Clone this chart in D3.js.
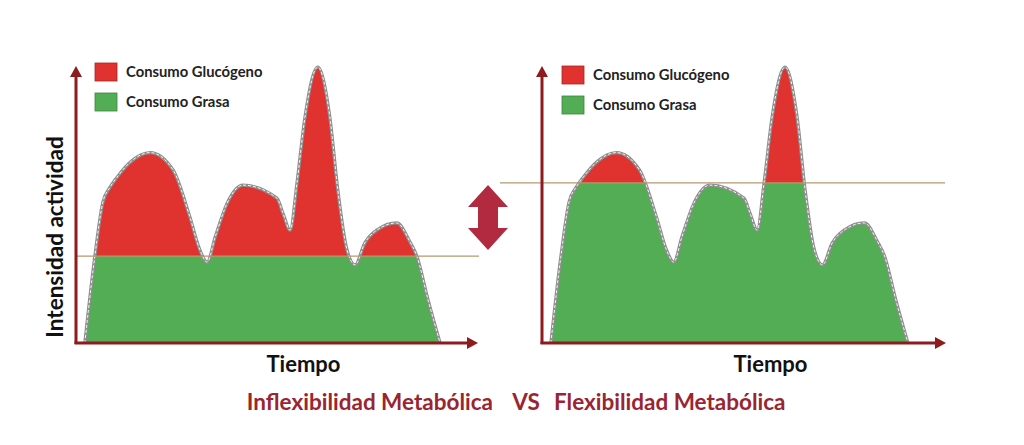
<!DOCTYPE html>
<html><head><meta charset="utf-8">
<script src="https://cdn.jsdelivr.net/npm/d3@7"></script>
<style>html,body{margin:0;padding:0;background:#fff;}svg{display:block;}</style>
</head><body>
<svg id="c" width="1024" height="445"></svg>
<script>
// ---- data ----
const time = [2.2, 4.7, 6.7, 8.5, 10.2, 13.5, 18.5, 24.2, 28.4, 30.9, 32.7, 34.7, 37.7, 41.6, 50.1, 51.6, 53.4, 55.1, 57.1, 60.3, 63.3, 65.3, 67.6, 69.6, 72, 75, 80, 83.3, 85, 87.8, 90.8];
const intensity = [0, 31.5, 51, 56.5, 60, 65.5, 69, 62.7, 45.7, 33.7, 29.3, 38.4, 50.7, 57.2, 52.5, 47.1, 40.9, 58, 81.9, 100, 81.9, 55.4, 33.7, 28.3, 36.2, 40.9, 43.5, 36.6, 31.5, 15.6, 0];
const thresholds = [31.5, 58];
const panelNames = ["Inflexibilidad Metabólica", "Flexibilidad Metabólica"];
const legendLabels = ["Consumo Glucógeno", "Consumo Grasa"];
const legendColors = ["#e0322f", "#52ad55"];
const xLabel = "Tiempo";
const yLabel = "Intensidad actividad";

const svg = d3.select("#c");
const data = time.map((t, i) => ({t, v: intensity[i]}));
const axisColor = "#8e1b1e";
const font = "Lato, 'Open Sans', sans-serif";

const panels = [
  {x0: 76, x1: 477, lineX0: 76, lineX1: 479, legX: 95, legY: 63},
  {x0: 542, x1: 945, lineX0: 500, lineX1: 945, legX: 562, legY: 66}
];
const yTop = 67, yBase = 343;

panels.forEach((p, pi) => {
  const x = d3.scaleLinear().domain([0, 100]).range([p.x0, p.x1]);
  const y = d3.scaleLinear().domain([0, 100]).range([yBase, yTop]);
  const thr = thresholds[pi];
  const g = svg.append("g");
  const area = d3.area().x(d => x(d.t)).y0(y(0)).y1(d => y(d.v)).curve(d3.curveMonotoneX);
  const line = d3.line().x(d => x(d.t)).y(d => y(d.v)).curve(d3.curveMonotoneX);
  const idA = "above" + pi, idB = "below" + pi;
  const defs = svg.append("defs");
  defs.append("clipPath").attr("id", idA).append("rect")
    .attr("x", 0).attr("y", 0).attr("width", 1024).attr("height", y(thr));
  defs.append("clipPath").attr("id", idB).append("rect")
    .attr("x", 0).attr("y", y(thr)).attr("width", 1024).attr("height", 445 - y(thr));
  g.append("path").datum(data).attr("d", area).attr("fill", legendColors[0]).attr("clip-path", `url(#${idA})`);
  g.append("path").datum(data).attr("d", area).attr("fill", legendColors[1]).attr("clip-path", `url(#${idB})`);
  g.append("path").datum(data).attr("d", line).attr("fill", "none").attr("stroke", "#8f8f8f").attr("stroke-width", 3.2);
  g.append("path").datum(data).attr("d", line).attr("fill", "none").attr("stroke", "#f4f4f4").attr("stroke-width", 1).attr("stroke-dasharray", "3,2");
  // threshold line
  g.append("line").attr("x1", p.lineX0).attr("x2", p.lineX1).attr("y1", y(thr)).attr("y2", y(thr))
    .attr("stroke", "#b9976e").attr("stroke-width", 1.2);
  // axes
  g.append("line").attr("x1", p.x0).attr("x2", p.x0).attr("y1", yBase + 1).attr("y2", yTop + 4)
    .attr("stroke", axisColor).attr("stroke-width", 3);
  g.append("line").attr("x1", p.x0 - 1.5).attr("x2", p.x1 - 6).attr("y1", yBase).attr("y2", yBase)
    .attr("stroke", axisColor).attr("stroke-width", 3);
  g.append("path").attr("d", `M${p.x0 - 6},${yTop + 10} L${p.x0},${yTop - 1} L${p.x0 + 6},${yTop + 10} Z`).attr("fill", axisColor);
  g.append("path").attr("d", `M${p.x1 - 10},${yBase - 6} L${p.x1 + 1},${yBase} L${p.x1 - 10},${yBase + 6} Z`).attr("fill", axisColor);
  // legend
  legendLabels.forEach((lab, li) => {
    const ly = p.legY + li * 30;
    g.append("rect").attr("x", p.legX).attr("y", ly).attr("width", 22).attr("height", 18)
      .attr("fill", legendColors[li]).attr("stroke", d3.color(legendColors[li]).darker(0.8)).attr("stroke-width", 0.8);
    g.append("text").attr("x", p.legX + 31).attr("y", ly + 14).text(lab)
      .attr("font-family", font).attr("font-weight", "bold").attr("font-size", 14.8).attr("fill", "#222");
  });
  // x label
  g.append("text").attr("x", (p.x0 + p.x1) / 2 + 27).attr("y", 372).attr("text-anchor", "middle").text(xLabel)
    .attr("font-family", font).attr("font-weight", "bold").attr("font-size", 22).attr("fill", "#111");
});

// y label (left only)
svg.append("text").attr("transform", "translate(63,237) rotate(-90)").attr("text-anchor", "middle").text(yLabel)
  .attr("font-family", font).attr("font-weight", "bold").attr("font-size", 22.5).attr("fill", "#111");

// double arrow
const ax = 488, at = 185, ab = 250;
svg.append("path").attr("d",
  `M${ax},${at} L${ax + 20},${at + 22} L${ax + 10},${at + 22} L${ax + 10},${ab - 22} L${ax + 20},${ab - 22} L${ax},${ab} L${ax - 20},${ab - 22} L${ax - 10},${ab - 22} L${ax - 10},${at + 22} L${ax - 20},${at + 22} Z`)
  .attr("fill", "#b22a40");

// bottom titles
const titleColor = "#9a2530";
svg.append("text").attr("x", 493).attr("y", 410).attr("text-anchor", "end").text(panelNames[0])
  .attr("font-family", font).attr("font-weight", "bold").attr("font-size", 22.5).attr("fill", titleColor);
svg.append("text").attr("x", 526).attr("y", 410).attr("text-anchor", "middle").text("VS")
  .attr("font-family", font).attr("font-weight", "bold").attr("font-size", 22.5).attr("fill", titleColor);
svg.append("text").attr("x", 554).attr("y", 410).attr("text-anchor", "start").text(panelNames[1])
  .attr("font-family", font).attr("font-weight", "bold").attr("font-size", 22.5).attr("fill", titleColor);
</script>
</body></html>
